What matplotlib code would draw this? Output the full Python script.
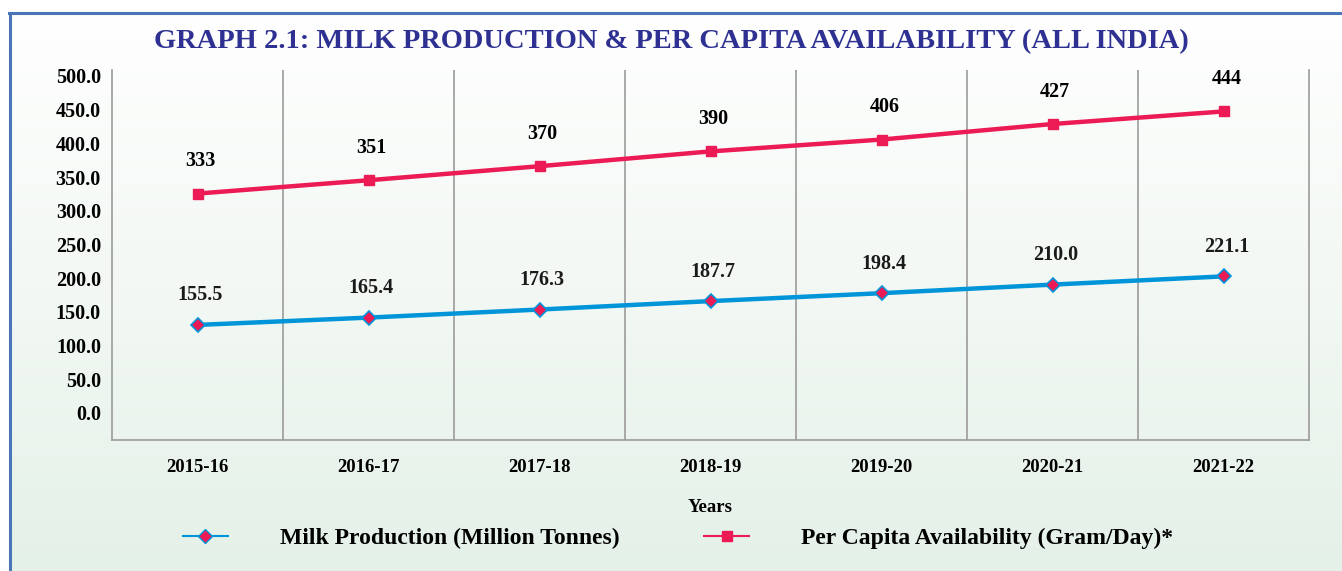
import numpy as np
import matplotlib.pyplot as plt
from matplotlib.lines import Line2D
from matplotlib.colors import LinearSegmentedColormap

# data
years = ['2015-16', '2016-17', '2017-18', '2018-19', '2019-20', '2020-21', '2021-22']
milk_production = [155.5, 165.4, 176.3, 187.7, 198.4, 210.0, 221.1]
per_capita = [333, 351, 370, 390, 406, 427, 444]
milk_labels = ['155.5', '165.4', '176.3', '187.7', '198.4', '210.0', '221.1']
pc_labels = ['333', '351', '370', '390', '406', '427', '444']
y_tick_labels = ['0.0', '50.0', '100.0', '150.0', '200.0', '250.0',
                 '300.0', '350.0', '400.0', '450.0', '500.0']

blue = '#0095D9'
red = '#EC1A55'
title_col = '#2E3192'
grey = '#9B9B9B'

plt.rcParams['font.family'] = ['Liberation Serif', 'DejaVu Serif']
plt.rcParams['font.weight'] = 'bold'

W, H = 1342, 571
fig = plt.figure(figsize=(W / 100, H / 100), dpi=100)

# background gradient (white top, pale green bottom)
bg = fig.add_axes([0, 0, 1, 1], zorder=-10)
cmap = LinearSegmentedColormap.from_list('bg', ['#FFFFFF', '#F3F8F4', '#E4F1E8'])
grad = np.linspace(0, 1, 256).reshape(-1, 1)
bg.imshow(grad, aspect='auto', cmap=cmap, extent=[0, 1, 0, 1], origin='upper')
bg.set_xlim(0, 1)
bg.set_ylim(0, 1)
bg.axis('off')
# white strip above frame
bg.axhspan(1 - 12 / H, 1, color='white', zorder=2)
bg.axvspan(0, 9 / W, color='white', zorder=2)
# blue frame lines
bg.plot([9 / W, 1], [1 - 13 / H, 1 - 13 / H], color='#4A76B8', lw=2.2, zorder=3)
bg.plot([10 / W, 10 / W], [0, 1 - 13 / H], color='#4A76B8', lw=2.2, zorder=3)

ax = fig.add_axes([112 / W, (H - 440) / H, (1309 - 112) / W, 370 / H])
ax.patch.set_alpha(0)
x = np.arange(len(years))

ax.plot(x, per_capita, color=red, lw=3.2, marker='s', markersize=7.5,
        markerfacecolor=red, markeredgecolor=red, zorder=3)
ax.plot(x, milk_production, color=blue, lw=3.2, marker='D', markersize=7.5,
        markerfacecolor=red, markeredgecolor=blue, markeredgewidth=1.2, zorder=3)

for i in range(len(years)):
    ax.annotate(pc_labels[i], (x[i], per_capita[i]), xytext=(2, 16),
                textcoords='offset points', ha='center', va='bottom', fontsize=14.5)
    ax.annotate(milk_labels[i], (x[i], milk_production[i]), xytext=(2, 14),
                textcoords='offset points', ha='center', va='bottom', fontsize=14.5,
                color='#1A1A1A')

ax.set_xlim(-0.5, len(years) - 0.5)
ax.set_ylim(0, 500)
for b in np.arange(0.5, len(years) - 0.5, 1):
    ax.axvline(b, color=grey, lw=1.2, zorder=1)

# the source chart's tick labels sit slightly off the data scale
tick_vals = np.arange(0, 501, 50)
ax.set_yticks(tick_vals * 0.911 + 36.5)
ax.set_yticklabels(y_tick_labels, fontsize=14.5)
ax.set_xticks(x)
ax.set_xticklabels(years, fontsize=13.5)
ax.tick_params(axis='both', length=0)
ax.tick_params(axis='y', pad=8)
ax.tick_params(axis='x', pad=14)

for s in ['left', 'right', 'bottom']:
    ax.spines[s].set_color(grey)
    ax.spines[s].set_linewidth(1.2)
ax.spines['top'].set_visible(False)

ax.set_xlabel('Years', fontsize=13.5, fontweight='bold', labelpad=16)

fig.text(0.5, 1 - 42 / H, 'GRAPH 2.1: MILK PRODUCTION & PER CAPITA AVAILABILITY (ALL INDIA)',
         ha='center', va='center', fontsize=20.5, color=title_col, fontweight='bold')

handles = [
    Line2D([], [], color=blue, lw=1.5, marker='D', markersize=7,
           markerfacecolor=red, markeredgecolor=blue),
    Line2D([], [], color=red, lw=1.5, marker='s', markersize=7,
           markerfacecolor=red, markeredgecolor=red),
]
fig.legend(handles, ['Milk Production (Million Tonnes)', 'Per Capita Availability (Gram/Day)*'],
           loc='center', bbox_to_anchor=(678 / W, 1 - 538 / H), ncol=2, frameon=False,
           fontsize=17, handlelength=1.9, handletextpad=2.2, columnspacing=3.6)

plt.savefig('out.png', dpi=100)
